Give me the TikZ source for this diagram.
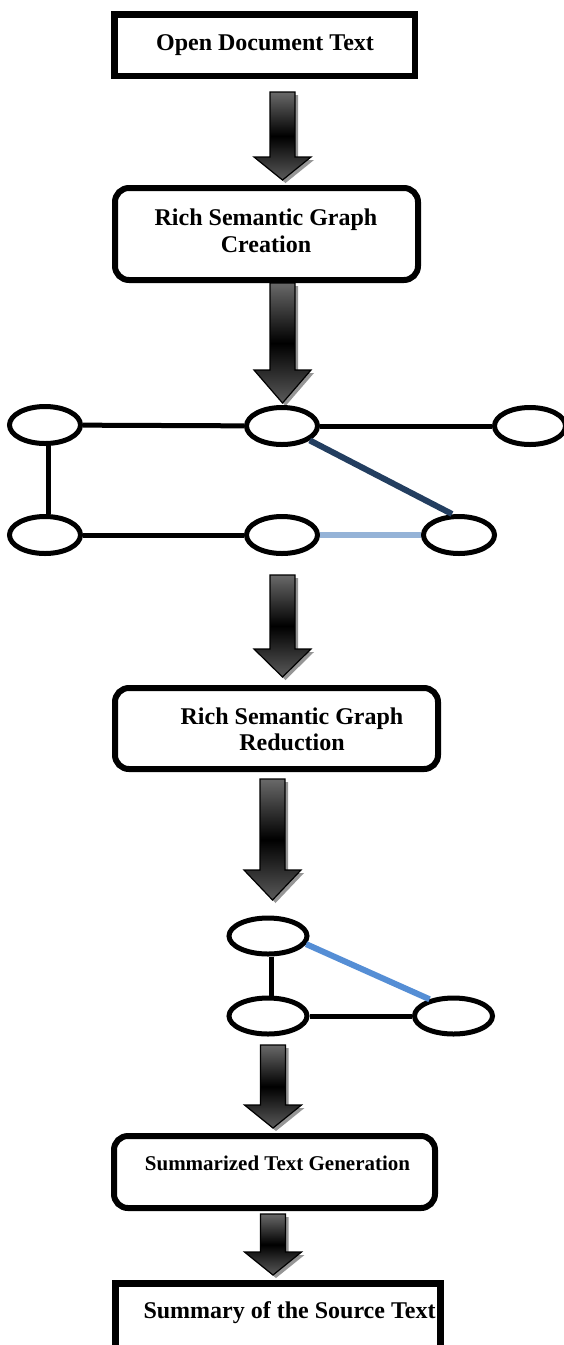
\documentclass[tikz,border=0pt]{standalone}
\usepackage{fontspec}
\setmainfont{Liberation Serif}
\usetikzlibrary{shapes.geometric,calc}
\definecolor{navyedge}{RGB}{35,62,96}
\definecolor{paleedge}{RGB}{149,179,215}
\definecolor{blueedge}{RGB}{85,142,213}
\definecolor{arrowshadow}{RGB}{150,150,150}
\definecolor{arrowgray}{RGB}{105,105,105}
\definecolor{headgray}{RGB}{90,90,90}

% block arrow from coordinate #1 (top of shaft) to coordinate #2 (tip); #3 = head length
\newcommand\blockarrow[3]{%
  \path[fill=arrowshadow] let \p1=(#1), \p2=(#2) in
    ({\x1-9.5pt},{\y1-3pt}) -- ({\x1+15.5pt},{\y1-3pt}) -- ({\x1+15.5pt},{\y2+#3-3pt})
    -- ({\x1+31.5pt},{\y2+#3-3pt}) -- ({\x2+3pt},{\y2-3pt}) -- ({\x1-25.5pt},{\y2+#3-3pt})
    -- ({\x1-9.5pt},{\y2+#3-3pt}) -- cycle;
  \path[draw=black, line width=1.2pt, top color=arrowgray, bottom color=headgray, middle color=black]
    let \p1=(#1), \p2=(#2) in
    ({\x1-12.5pt},{\y1}) -- ({\x1+12.5pt},{\y1}) -- ({\x1+12.5pt},{\y2+#3})
    -- ({\x1+28.5pt},{\y2+#3}) -- ({\x2},{\y2}) -- ({\x1-28.5pt},{\y2+#3})
    -- ({\x1-12.5pt},{\y2+#3}) -- cycle;
}

\begin{document}
\begin{tikzpicture}[x=1pt,y=-1pt,
  sqbox/.style={rectangle, draw=black, inner sep=0pt},
  rbox/.style={rectangle, draw=black, rounded corners=14pt, line width=6pt, inner sep=0pt},
  lbl/.style={inner sep=0pt, anchor=base, font=\fontsize{24}{28}\selectfont\bfseries},
  gnode/.style={ellipse, draw=black, line width=5pt, fill=white, inner sep=0pt,
                minimum width=71pt, minimum height=37pt},
  gnodeb/.style={gnode, minimum width=78pt, minimum height=36pt},
  edge/.style={line width=5pt, draw=black},
  cedge/.style={line width=6pt}
]
\useasboundingbox (0,0) rectangle (563,1345);

% boxes
\node[sqbox, line width=6.5pt, minimum width=300.5pt, minimum height=61.5pt] (b1) at (264.5,45) {};
\node[rbox, minimum width=303pt, minimum height=92pt] (b2) at (266.5,234) {};
\node[rbox, minimum width=323pt, minimum height=81pt] (b3) at (276.5,728.5) {};
\node[rbox, minimum width=321pt, minimum height=72pt] (b4) at (274.5,1172) {};
\node[sqbox, line width=7pt, minimum width=325pt, minimum height=82pt] (b5) at (277.5,1324) {};

% texts
\node[lbl] (t1) at (265,50) {Open Document Text};
\node[lbl] (t2a) at (266,225) {Rich Semantic Graph};
\node[lbl] (t2b) at (266,252) {Creation};
\node[lbl] (t3a) at (292,724) {Rich Semantic Graph};
\node[lbl] (t3b) at (292,750) {Reduction};
\node[lbl, font=\fontsize{21}{25}\selectfont\bfseries] (t4) at (277.5,1170) {Summarized Text Generation};
\node[lbl] (t5) at (289.5,1318) {Summary of the Source Text};

% block arrows
\coordinate (a1s) at (282.5,92);   \coordinate (a1e) at (282.5,180);
\coordinate (a2s) at (282.5,283);  \coordinate (a2e) at (282.5,403);
\coordinate (a3s) at (282.5,575);  \coordinate (a3e) at (282.5,677);
\coordinate (a4s) at (272.5,779);  \coordinate (a4e) at (272.5,900);
\coordinate (a5s) at (273,1045);   \coordinate (a5e) at (273,1128);
\coordinate (a6s) at (273,1214);   \coordinate (a6e) at (273,1275);
\blockarrow{a1s}{a1e}{23pt}
\blockarrow{a2s}{a2e}{33pt}
\blockarrow{a3s}{a3e}{28pt}
\blockarrow{a4s}{a4e}{30pt}
\blockarrow{a5s}{a5e}{23pt}
\blockarrow{a6s}{a6e}{23pt}

% graph 1
\node[gnode] (e1) at (45,425) {};
\node[gnode] (e2) at (282,426) {};
\node[gnode] (e3) at (530,426) {};
\node[gnode] (e4) at (45,535) {};
\node[gnode] (e5) at (282,535) {};
\node[gnode] (e6) at (459,535) {};
\draw[edge] (e1) -- (e2);
\draw[edge] (e2) -- (e3);
\draw[edge] ([xshift=3pt]e1.south) -- ([xshift=3pt]e4.north);
\draw[edge] (e4) -- (e5);
\draw[cedge, navyedge] (e2) -- ([xshift=-7pt]e6.north);
\draw[cedge, paleedge] (e5) -- (e6);

% graph 2
\node[gnodeb] (f1) at (268,936) {};
\node[gnodeb] (f2) at (268,1016) {};
\node[gnodeb] (f3) at (453.5,1016) {};
\draw[edge] ([xshift=3pt]f1.south) -- ([xshift=3pt]f2.north);
\draw[edge] (f2) -- (f3);
\draw[cedge, blueedge] (f1.-12) -- (f3.145);
\end{tikzpicture}
\end{document}
